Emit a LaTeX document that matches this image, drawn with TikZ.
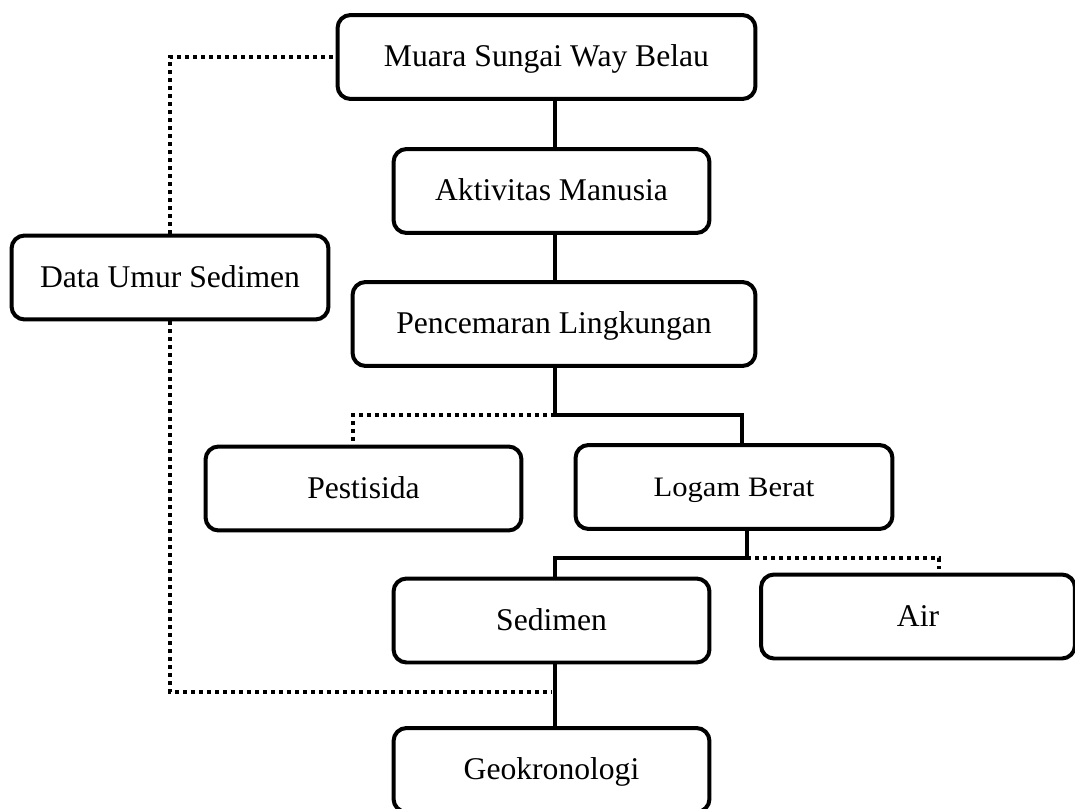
\documentclass[tikz,border=0pt]{standalone}
\usepackage{fontspec}
\setmainfont{Liberation Serif}
\usepackage{tikz}

\begin{document}
\begin{tikzpicture}[x=0.02cm, y=-0.02cm,
  kotak/.style={draw, line width=0.08cm, rounded corners=0.26cm, minimum height=1.68cm, inner sep=0pt, text height=13.5pt, text depth=2.5pt, font=\fontsize{18}{22}\selectfont},
  garis/.style={line width=0.066cm},
  titik/.style={line width=0.08cm, dash pattern=on 0.08cm off 0.08cm}]
\useasboundingbox (0,0) rectangle (1075,808);
\node[kotak, minimum width=8.36cm] (muara) at (546.5,57) {Muara Sungai Way Belau};
\node[kotak, minimum width=6.32cm] (aktiv) at (551.5,191) {Aktivitas Manusia};
\node[kotak, minimum width=6.34cm] (data) at (170,277.5) {Data Umur Sedimen};
\node[kotak, minimum width=8.06cm] (penc) at (554,324) {Pencemaran Lingkungan};
\node[kotak, minimum width=6.32cm] (pest) at (363.5,488.5) {Pestisida};
\node[kotak, minimum width=6.34cm, font=\fontsize{16}{20}\selectfont\addfontfeatures{FakeStretch=1.09}] (logam) at (734,487) {Logam Berat};
\node[kotak, minimum width=6.32cm] (sedimen) at (551.5,620.5) {Sedimen};
\node[kotak, minimum width=6.28cm, yshift=0.05cm] (air) at (918,619) {Air};
\node[kotak, minimum width=6.32cm] (geo) at (551.5,770) {Geokronologi};
\coordinate (cabangA) at (555,415);
\coordinate (cabangB) at (747,558);
\coordinate (sudutA) at (171,692);
\draw[garis] ([xshift=0.07cm]aktiv.north) -- ([xshift=0.07cm]aktiv.north |- muara.south);
\draw[garis] ([xshift=0.07cm]aktiv.south) -- ([xshift=0.07cm]aktiv.south |- penc.north);
\draw[garis] (penc.south -| cabangA) -- (cabangA) -| ([xshift=0.16cm]logam.north);
\draw[titik] (cabangA) -| ([xshift=-0.21cm]pest.north);
\draw[garis] (logam.south -| cabangB) -- (cabangB) -| ([xshift=0.07cm]sedimen.north);
\draw[titik] (cabangB) -| ([xshift=0.42cm, yshift=0.08cm]air.north);
\draw[garis] ([xshift=0.07cm]sedimen.south) -- ([xshift=0.07cm]geo.north);
\draw[titik] (data.south) |- (sudutA -| geo.north);
\draw[titik] (data.north) |- (muara.west);
\end{tikzpicture}
\end{document}
